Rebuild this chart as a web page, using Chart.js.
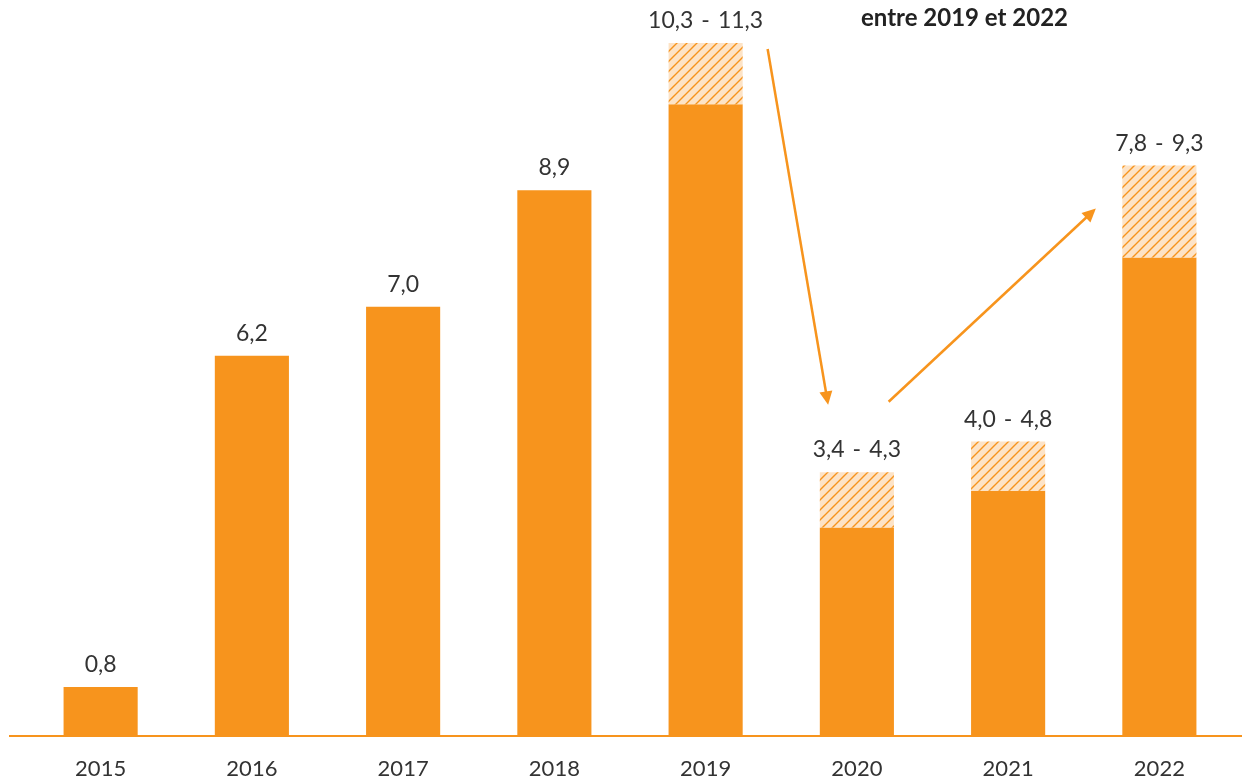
<!DOCTYPE html>
<html lang="fr">
<head>
<meta charset="UTF-8" />
<title>Montants par année</title>
<script src="https://cdn.jsdelivr.net/npm/chart.js@4/dist/chart.umd.min.js"></script>
<style>
  html, body { margin: 0; padding: 0; background: #fff; }
  .wrap { width: 1242px; height: 780px; position: relative; }
</style>
</head>
<body>
<div class="wrap">
  <canvas id="chart"></canvas>
</div>
<script>
// données
var years = ['2015', '2016', '2017', '2018', '2019', '2020', '2021', '2022'];
var lowValues = [0.8, 6.2, 7.0, 8.9, 10.3, 3.4, 4.0, 7.8];
var highValues = [null, null, null, null, 11.3, 4.3, 4.8, 9.3];
var noteText = 'entre 2019 et 2022';

var orange = '#F7941D';
var textColor = '#333333';

// motif hachuré pour les fourchettes
function hatch() {
  var c = document.createElement('canvas');
  c.width = 10; c.height = 10;
  var g = c.getContext('2d');
  g.fillStyle = '#FDE3C6';
  g.fillRect(0, 0, 10, 10);
  g.strokeStyle = orange;
  g.lineWidth = 1.4;
  g.beginPath();
  g.moveTo(-1, 11); g.lineTo(11, -1);
  g.moveTo(-1, 1); g.lineTo(1, -1);
  g.moveTo(9, 11); g.lineTo(11, 9);
  g.stroke();
  return g.createPattern(c, 'repeat');
}

function fmt(v) {
  return v.toFixed(1).replace('.', ',');
}

var rangeData = lowValues.map(function (v, i) {
  return highValues[i] === null ? null : [v, highValues[i]];
});

// flèches : [index catégorie, décalage (fraction de catégorie), valeur]
var arrows = [
  { from: [4, 0.41, 11.2], to: [5, -0.19, 5.4] },
  { from: [5, 0.21, 5.45], to: [7, -0.42, 8.6] }
];

// texte "a - b" centré, avec un écart fixe autour du tiret
function drawRange(ctx, parts, cx, y, gap) {
  var widths = parts.map(function (p) { return ctx.measureText(p).width; });
  var total = widths[0] + widths[1] + widths[2] + 2 * gap;
  var px = cx - total / 2;
  ctx.textAlign = 'left';
  parts.forEach(function (p, k) {
    ctx.fillText(p, px, y);
    px += widths[k] + gap;
  });
  ctx.textAlign = 'center';
}

var extras = {
  id: 'extras',
  afterDatasetsDraw: function (chart) {
    var ctx = chart.ctx;
    var x = chart.scales.x, y = chart.scales.y;
    var area = chart.chartArea;
    var step = x.getPixelForValue(1) - x.getPixelForValue(0);

    // ligne de base
    ctx.save();
    ctx.strokeStyle = orange;
    ctx.lineWidth = 2;
    ctx.beginPath();
    ctx.moveTo(area.left - 16, y.getPixelForValue(0));
    ctx.lineTo(chart.width, y.getPixelForValue(0));
    ctx.stroke();

    // étiquettes de valeurs
    ctx.fillStyle = textColor;
    ctx.font = '400 23px Lato';
    ctx.textAlign = 'center';
    ctx.textBaseline = 'alphabetic';
    years.forEach(function (yr, i) {
      var cx = x.getPixelForValue(i);
      if (highValues[i] === null) {
        ctx.fillText(fmt(lowValues[i]), cx, y.getPixelForValue(lowValues[i]) - 15);
      } else {
        drawRange(ctx, [fmt(lowValues[i]), '-', fmt(highValues[i])], cx, y.getPixelForValue(highValues[i]) - 15, 8);
      }
    });

    // flèches
    ctx.strokeStyle = orange;
    ctx.fillStyle = orange;
    ctx.lineWidth = 2.5;
    arrows.forEach(function (a) {
      var x1 = x.getPixelForValue(a.from[0]) + a.from[1] * step;
      var y1 = y.getPixelForValue(a.from[2]);
      var x2 = x.getPixelForValue(a.to[0]) + a.to[1] * step;
      var y2 = y.getPixelForValue(a.to[2]);
      var ang = Math.atan2(y2 - y1, x2 - x1);
      var head = 15;
      ctx.beginPath();
      ctx.moveTo(x1, y1);
      ctx.lineTo(x2 - head * 0.8 * Math.cos(ang), y2 - head * 0.8 * Math.sin(ang));
      ctx.stroke();
      ctx.beginPath();
      ctx.moveTo(x2, y2);
      ctx.lineTo(x2 - head * Math.cos(ang - 0.45), y2 - head * Math.sin(ang - 0.45));
      ctx.lineTo(x2 - head * Math.cos(ang + 0.45), y2 - head * Math.sin(ang + 0.45));
      ctx.closePath();
      ctx.fill();
    });

    // note
    ctx.fillStyle = '#222222';
    ctx.font = 'bold 24px Lato';
    ctx.fillText(noteText, (x.getPixelForValue(5) + x.getPixelForValue(6)) / 2 + 32, 26);
    ctx.restore();
  }
};

new Chart(document.getElementById('chart'), {
  type: 'bar',
  data: {
    labels: years,
    datasets: [
      {
        data: lowValues,
        backgroundColor: orange,
        grouped: false,
        order: 2
      },
      {
        data: rangeData,
        backgroundColor: hatch(),
        grouped: false,
        order: 1
      }
    ]
  },
  options: {
    responsive: true,
    maintainAspectRatio: false,
    animation: false,
    barPercentage: 0.49,
    categoryPercentage: 1,
    layout: { padding: { left: 25, right: 7, top: 0, bottom: 0 } },
    plugins: {
      legend: { display: false },
      tooltip: { enabled: false }
    },
    scales: {
      x: {
        grid: { display: false, drawTicks: false },
        border: { display: false },
        ticks: {
          color: textColor,
          padding: 20,
          font: { family: 'Lato', size: 22, weight: 400 }
        },
        afterFit: function (scale) { scale.height = 44; }
      },
      y: {
        display: false,
        min: 0,
        max: 12
      }
    }
  },
  plugins: [extras]
});
</script>
</body>
</html>
